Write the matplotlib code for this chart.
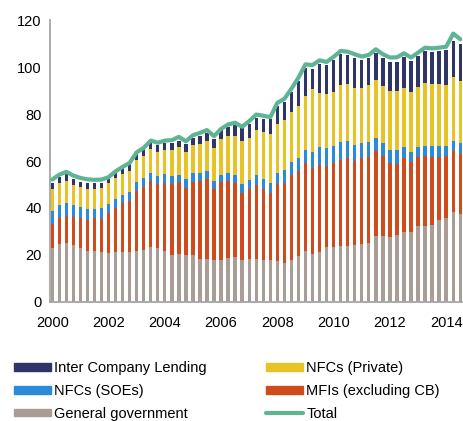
import numpy as np
import matplotlib
matplotlib.use("Agg")
import matplotlib.pyplot as plt
from matplotlib.patches import Patch
from matplotlib.lines import Line2D

plt.rcParams['font.family'] = ['Liberation Sans', 'DejaVu Sans']

# quarterly series, 2000Q1 - 2014Q3
quarters = [f"{y}Q{q}" for y in range(2000, 2015) for q in range(1, 5)][:59]

general_government = [22.8, 24.8, 25.0, 24.2, 23.1, 21.8, 21.5, 21.1, 20.8, 21.2,
                      21.2, 21.2, 21.8, 22.2, 23.5, 23.1, 21.8, 19.9, 20.5, 19.8,
                      20.1, 18.4, 18.4, 17.9, 17.9, 18.8, 19.2, 17.9, 18.2, 18.1,
                      17.9, 17.9, 17.5, 16.5, 17.9, 19.6, 21.8, 20.4, 21.1, 23.5,
                      23.5, 24.0, 23.9, 24.3, 24.6, 24.9, 28.2, 28.0, 27.8, 28.3,
                      29.9, 29.8, 32.5, 32.5, 32.9, 35.0, 35.6, 38.4, 37.6]
mfis = [10.5, 10.8, 11.7, 12.0, 12.5, 13.2, 14.1, 14.3, 16.9, 18.8,
        20.8, 21.6, 25.3, 26.9, 27.9, 27.0, 29.0, 30.2, 30.4, 28.7,
        30.9, 33.0, 34.0, 30.3, 33.0, 32.9, 31.6, 28.5, 29.8, 31.6,
        30.2, 28.4, 32.6, 34.0, 36.0, 36.0, 37.3, 36.8, 37.4, 34.3,
        35.5, 36.3, 37.3, 35.6, 36.6, 36.9, 36.1, 34.3, 31.3, 30.5,
        31.5, 29.7, 29.1, 29.7, 29.0, 26.9, 26.4, 25.8, 25.3]
nfcs_soes = [5.6, 5.8, 5.6, 4.9, 5.0, 4.6, 4.1, 4.4, 4.1, 4.0,
             3.7, 4.2, 4.1, 3.8, 3.7, 3.4, 3.6, 3.4, 3.3, 3.7,
             3.7, 3.4, 3.2, 3.2, 3.3, 3.1, 3.4, 4.0, 4.1, 4.4,
             4.4, 4.5, 4.9, 5.6, 5.5, 5.8, 5.8, 6.5, 7.4, 7.8,
             7.2, 7.7, 7.5, 7.1, 6.4, 6.5, 5.4, 5.3, 5.7, 5.8,
             4.5, 4.5, 4.3, 4.3, 4.3, 4.3, 4.2, 4.5, 4.6]
nfcs_private = [9.2, 9.1, 9.4, 8.9, 8.5, 8.6, 8.5, 8.7, 8.7, 8.8,
                8.6, 8.9, 9.2, 9.4, 10.2, 10.2, 10.4, 11.1, 11.7, 11.5,
                12.1, 12.5, 13.1, 14.1, 15.1, 15.8, 16.4, 18.2, 17.6, 19.2,
                19.7, 20.8, 20.9, 21.2, 21.4, 22.0, 22.8, 26.8, 22.9, 22.8,
                23.2, 24.2, 24.0, 24.1, 23.6, 23.9, 24.7, 24.5, 24.9, 25.1,
                25.3, 25.4, 25.5, 26.7, 26.6, 26.5, 26.2, 26.9, 26.6]
inter_company = [2.6, 2.7, 2.7, 2.2, 2.1, 2.3, 2.3, 2.2, 1.9, 2.4,
                 2.9, 3.6, 2.8, 3.0, 2.5, 3.2, 3.0, 3.2, 2.8, 3.6,
                 3.0, 3.3, 3.4, 4.1, 4.0, 4.1, 4.7, 5.4, 6.2, 5.0,
                 5.8, 6.1, 7.5, 8.0, 8.7, 10.8, 12.1, 8.6, 12.5, 12.4,
                 13.6, 13.4, 12.5, 12.8, 11.7, 11.6, 11.6, 11.8, 12.3, 12.6,
                 13.3, 13.1, 13.2, 13.7, 13.8, 14.2, 14.8, 15.7, 15.8]
total = [52.1, 54.2, 55.4, 53.8, 52.8, 52.2, 52.0, 52.1, 53.1, 55.6,
         57.5, 59.2, 63.7, 65.6, 68.7, 67.8, 68.7, 68.9, 70.3, 68.4,
         71.0, 72.0, 73.2, 70.6, 73.7, 75.6, 76.3, 74.6, 77.0, 79.8,
         79.3, 78.7, 84.8, 86.5, 90.8, 95.5, 101.2, 100.9, 102.9, 102.2,
         104.4, 106.9, 106.6, 105.5, 104.5, 105.2, 107.6, 105.5, 104.1, 104.2,
         105.9, 104.1, 106.2, 108.3, 108.0, 108.3, 108.7, 114.3, 111.9]

year_ticks = [2000, 2002, 2004, 2006, 2008, 2010, 2012, 2014]

c_icl = '#2f3567'
c_priv = '#e7c325'
c_soe = '#2b8ad9'
c_mfi = '#d04b1b'
c_gov = '#a99d95'
c_total = '#5fb494'

fig = plt.figure(figsize=(4.64, 4.21), dpi=100)
ax = fig.add_axes([0.108, 0.283, 0.89, 0.669])

x = np.arange(len(quarters))
w = 0.48

# stack the sectors bottom-up
stack = [(general_government, c_gov), (mfis, c_mfi), (nfcs_soes, c_soe),
         (nfcs_private, c_priv), (inter_company, c_icl)]
bottom = np.zeros(len(x))
for vals, col in stack:
    ax.bar(x, vals, width=w, bottom=bottom, color=col, linewidth=0, zorder=2)
    bottom += np.array(vals)

ax.plot(x, total, color=c_total, lw=3, solid_capstyle='round',
        solid_joinstyle='round', zorder=3)

ax.set_ylim(0, 120)
ax.set_yticks(range(0, 121, 20))
ax.set_xlim(-0.3, 58.4)
ax.set_xticks([quarters.index(f"{y}Q1") for y in year_ticks])
ax.set_xticklabels([str(y) for y in year_ticks])
ax.tick_params(axis='both', length=0, labelsize=10.5, colors='black')
ax.tick_params(axis='y', pad=6)
ax.tick_params(axis='x', pad=10)

for s in ['top', 'right']:
    ax.spines[s].set_visible(False)
for s in ['left', 'bottom']:
    ax.spines[s].set_color('#a6a6a6')
    ax.spines[s].set_linewidth(1.3)

handles = [Patch(color=c_icl), Patch(color=c_soe), Patch(color=c_gov),
           Patch(color=c_priv), Patch(color=c_mfi),
           Line2D([], [], color=c_total, lw=3, solid_capstyle='round')]
labels = ['Inter Company Lending', 'NFCs (SOEs)', 'General government',
          'NFCs (Private)', 'MFIs (excluding CB)', 'Total']
fig.legend(handles, labels, ncol=2, loc='upper left',
           bbox_to_anchor=(0.031, 0.142), frameon=False, fontsize=10.5,
           borderpad=0, borderaxespad=0, handlelength=2.5, handleheight=0.45,
           handletextpad=0.25, labelspacing=0.6, columnspacing=4.05)

fig.savefig('out.png', dpi=100)
